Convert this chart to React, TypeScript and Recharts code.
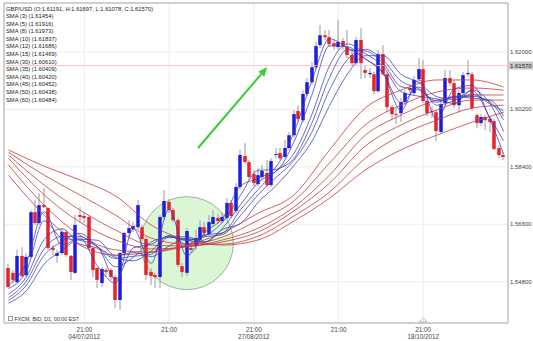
import {
  ComposedChart, Bar, Line, XAxis, YAxis, CartesianGrid,
  ReferenceLine, ReferenceDot, ReferenceArea,
} from 'recharts'

// daily GBP/USD candles: [open, high, low, close]
const candles: [number, number, number, number][] = [
  [1.5523, 1.5536, 1.5461, 1.5464], [1.5508, 1.5517, 1.5476, 1.5486], [1.5479, 1.5580, 1.5476, 1.5561],
  [1.5561, 1.5589, 1.5495, 1.5498], [1.5501, 1.5570, 1.5495, 1.5558], [1.5558, 1.5705, 1.5554, 1.5698],
  [1.5698, 1.5736, 1.5658, 1.5664], [1.5664, 1.5758, 1.5658, 1.5720], [1.5720, 1.5774, 1.5711, 1.5714],
  [1.5711, 1.5714, 1.5580, 1.5586], [1.5586, 1.5595, 1.5564, 1.5580], [1.5561, 1.5580, 1.5539, 1.5570],
  [1.5570, 1.5648, 1.5564, 1.5636], [1.5636, 1.5642, 1.5558, 1.5564], [1.5561, 1.5564, 1.5486, 1.5511],
  [1.5508, 1.5689, 1.5504, 1.5658], [1.5689, 1.5714, 1.5664, 1.5683], [1.5686, 1.5698, 1.5664, 1.5680],
  [1.5683, 1.5689, 1.5580, 1.5586], [1.5586, 1.5589, 1.5495, 1.5517], [1.5523, 1.5526, 1.5461, 1.5486],
  [1.5476, 1.5526, 1.5464, 1.5520], [1.5517, 1.5523, 1.5495, 1.5511], [1.5517, 1.5523, 1.5486, 1.5495],
  [1.5495, 1.5501, 1.5398, 1.5423], [1.5423, 1.5573, 1.5392, 1.5570], [1.5570, 1.5636, 1.5564, 1.5633],
  [1.5633, 1.5673, 1.5620, 1.5648], [1.5645, 1.5667, 1.5636, 1.5655], [1.5651, 1.5736, 1.5642, 1.5720],
  [1.5651, 1.5658, 1.5608, 1.5614], [1.5614, 1.5620, 1.5486, 1.5501], [1.5511, 1.5523, 1.5470, 1.5498],
  [1.5501, 1.5508, 1.5461, 1.5495], [1.5495, 1.5689, 1.5461, 1.5683], [1.5683, 1.5767, 1.5673, 1.5733],
  [1.5730, 1.5739, 1.5695, 1.5705], [1.5705, 1.5711, 1.5667, 1.5673], [1.5673, 1.5680, 1.5526, 1.5533],
  [1.5529, 1.5539, 1.5495, 1.5511], [1.5508, 1.5648, 1.5498, 1.5639], [1.5586, 1.5611, 1.5570, 1.5580],
  [1.5592, 1.5642, 1.5580, 1.5617], [1.5611, 1.5673, 1.5601, 1.5651], [1.5651, 1.5667, 1.5623, 1.5633],
  [1.5630, 1.5689, 1.5623, 1.5667], [1.5661, 1.5705, 1.5655, 1.5683], [1.5680, 1.5692, 1.5661, 1.5670],
  [1.5670, 1.5698, 1.5664, 1.5683], [1.5680, 1.5742, 1.5673, 1.5727], [1.5727, 1.5736, 1.5680, 1.5686],
  [1.5702, 1.5789, 1.5695, 1.5777], [1.5777, 1.5893, 1.5770, 1.5877], [1.5874, 1.5914, 1.5849, 1.5855],
  [1.5855, 1.5861, 1.5799, 1.5808], [1.5817, 1.5830, 1.5780, 1.5789], [1.5786, 1.5836, 1.5780, 1.5814],
  [1.5808, 1.5846, 1.5799, 1.5827], [1.5821, 1.5861, 1.5777, 1.5783], [1.5783, 1.5867, 1.5777, 1.5858],
  [1.5877, 1.5899, 1.5867, 1.5880], [1.5883, 1.5899, 1.5861, 1.5867], [1.5871, 1.5924, 1.5864, 1.5899],
  [1.5899, 1.5949, 1.5893, 1.5939], [1.5939, 1.6018, 1.5933, 1.6005], [1.6015, 1.6033, 1.5983, 1.5990],
  [1.5986, 1.6080, 1.5980, 1.6068], [1.6068, 1.6118, 1.6062, 1.6105], [1.6105, 1.6168, 1.6099, 1.6152],
  [1.6152, 1.6231, 1.6146, 1.6218], [1.6221, 1.6284, 1.6212, 1.6252], [1.6252, 1.6268, 1.6237, 1.6246],
  [1.6246, 1.6268, 1.6215, 1.6224], [1.6227, 1.6237, 1.6206, 1.6218], [1.6215, 1.6299, 1.6206, 1.6231],
  [1.6234, 1.6243, 1.6206, 1.6218], [1.6215, 1.6268, 1.6180, 1.6190], [1.6190, 1.6206, 1.6155, 1.6165],
  [1.6165, 1.6246, 1.6159, 1.6237], [1.6237, 1.6274, 1.6115, 1.6165], [1.6143, 1.6159, 1.6118, 1.6134],
  [1.6130, 1.6149, 1.6118, 1.6134], [1.6130, 1.6137, 1.6068, 1.6077], [1.6077, 1.6206, 1.6071, 1.6193],
  [1.6193, 1.6221, 1.6124, 1.6130], [1.6130, 1.6137, 1.6011, 1.6027], [1.6027, 1.6033, 1.5986, 1.6005],
  [1.6005, 1.6024, 1.5974, 1.6002], [1.6008, 1.6055, 1.5980, 1.6043], [1.6043, 1.6080, 1.6033, 1.6071],
  [1.6087, 1.6096, 1.6065, 1.6080], [1.6071, 1.6124, 1.6065, 1.6112], [1.6115, 1.6180, 1.6105, 1.6146],
  [1.6146, 1.6174, 1.6040, 1.6046], [1.6046, 1.6052, 1.5999, 1.6008], [1.6015, 1.6030, 1.5993, 1.6011],
  [1.6011, 1.6018, 1.5921, 1.5952], [1.5949, 1.6049, 1.5943, 1.6036], [1.6040, 1.6143, 1.6033, 1.6118],
  [1.6118, 1.6143, 1.6093, 1.6102], [1.6102, 1.6112, 1.6024, 1.6033], [1.6033, 1.6080, 1.6011, 1.6071],
  [1.6071, 1.6137, 1.6065, 1.6127], [1.6130, 1.6174, 1.6121, 1.6134], [1.6130, 1.6137, 1.6015, 1.6024],
  [1.6002, 1.6008, 1.5961, 1.5977], [1.5977, 1.6005, 1.5968, 1.5996], [1.5996, 1.6002, 1.5955, 1.5986],
  [1.5990, 1.5996, 1.5949, 1.5980], [1.5983, 1.5990, 1.5893, 1.5896], [1.5899, 1.5908, 1.5867, 1.5877],
  [1.5877, 1.5886, 1.5861, 1.5871],
]

// fast averages, read at every 4th candle
const fastIdx = [1, 5, 9, 13, 17, 21, 25, 29, 33, 37, 41, 45, 49, 53, 57, 61, 65, 69, 73, 77, 81, 85, 89, 93, 97, 101, 105, 109, 112]
const sma3 = [1.5468, 1.5539, 1.5699, 1.5595, 1.5617, 1.5529, 1.5476, 1.5645, 1.5538, 1.5707, 1.5561, 1.5634, 1.5679, 1.5780, 1.5804, 1.5840, 1.5948, 1.6108, 1.6241, 1.6213, 1.6178, 1.6134, 1.6017, 1.6113, 1.5990, 1.6084, 1.6095, 1.5987, 1.5881]
const sma5 = [1.5459, 1.5513, 1.5671, 1.5617, 1.5610, 1.5590, 1.5487, 1.5586, 1.5598, 1.5623, 1.5612, 1.5624, 1.5667, 1.5750, 1.5829, 1.5832, 1.5918, 1.6064, 1.6219, 1.6216, 1.6178, 1.6134, 1.6041, 1.6090, 1.6033, 1.6048, 1.6078, 1.5993, 1.5922]
const sma8 = [1.5441, 1.5495, 1.5612, 1.5646, 1.5598, 1.5585, 1.5527, 1.5557, 1.5605, 1.5619, 1.5621, 1.5605, 1.5648, 1.5721, 1.5791, 1.5827, 1.5882, 1.6003, 1.6157, 1.6225, 1.6195, 1.6154, 1.6076, 1.6061, 1.6053, 1.6038, 1.6081, 1.6037, 1.5951]
const sma10 = [1.5430, 1.5482, 1.5583, 1.5622, 1.5622, 1.5589, 1.5556, 1.5546, 1.5576, 1.5625, 1.5597, 1.5627, 1.5633, 1.5705, 1.5769, 1.5827, 1.5866, 1.5976, 1.6120, 1.6206, 1.6203, 1.6164, 1.6091, 1.6081, 1.6047, 1.6057, 1.6061, 1.6043, 1.5987]
const sma12 = [1.5422, 1.5469, 1.5563, 1.5606, 1.5632, 1.5588, 1.5553, 1.5560, 1.5566, 1.5621, 1.5609, 1.5621, 1.5628, 1.5687, 1.5753, 1.5807, 1.5860, 1.5948, 1.6081, 1.6176, 1.6208, 1.6174, 1.6109, 1.6085, 1.6042, 1.6060, 1.6055, 1.6049, 1.5998]
const sma15 = [1.5413, 1.5452, 1.5535, 1.5578, 1.5613, 1.5610, 1.5561, 1.5572, 1.5559, 1.5592, 1.5616, 1.5604, 1.5644, 1.5662, 1.5729, 1.5781, 1.5844, 1.5919, 1.6032, 1.6130, 1.6188, 1.6188, 1.6130, 1.6104, 1.6060, 1.6051, 1.6067, 1.6037, 1.6015]

// slow averages, read at every 8th candle
const slowIdx = [1, 9, 17, 25, 33, 41, 49, 57, 65, 73, 81, 89, 97, 105, 112]
const sma30 = [1.5814, 1.5689, 1.5595, 1.5564, 1.5573, 1.5595, 1.5633, 1.5695, 1.5752, 1.5893, 1.6024, 1.6080, 1.6112, 1.6112, 1.6090]
const sma35 = [1.5846, 1.5720, 1.5626, 1.5580, 1.5573, 1.5592, 1.5620, 1.5673, 1.5733, 1.5852, 1.5971, 1.6033, 1.6074, 1.6087, 1.6080]
const sma40 = [1.5867, 1.5752, 1.5667, 1.5611, 1.5583, 1.5589, 1.5611, 1.5648, 1.5714, 1.5814, 1.5939, 1.6002, 1.6049, 1.6065, 1.6065]
const sma45 = [1.5877, 1.5783, 1.5705, 1.5642, 1.5595, 1.5592, 1.5605, 1.5636, 1.5702, 1.5789, 1.5905, 1.5971, 1.6018, 1.6049, 1.6049]
const sma50 = [1.5886, 1.5814, 1.5752, 1.5689, 1.5617, 1.5598, 1.5598, 1.5623, 1.5686, 1.5761, 1.5867, 1.5939, 1.5986, 1.6024, 1.6033]
const sma60 = [1.5893, 1.5842, 1.5799, 1.5749, 1.5658, 1.5611, 1.5595, 1.5611, 1.5670, 1.5742, 1.5830, 1.5893, 1.5939, 1.5980, 1.6011]

const yTicks = [1.548, 1.566, 1.584, 1.602, 1.62]
const xTicks = [18, 37, 56, 75, 94]
const xTimes = ['21:00', '21:00', '21:00', '21:00', '21:00']
const xDates = ['04/07/2012', '', '27/08/2012', '', '18/10/2012']
const lastPrice = 1.6157

const legendLines = [
  'GBP/USD (O:1.61191, H:1.61697, L:1.61078, C:1.61570)',
  'SMA (3) (1.61454)', 'SMA (5) (1.61916)', 'SMA (8) (1.61973)', 'SMA (10) (1.61837)',
  'SMA (12) (1.61686)', 'SMA (15) (1.61469)', 'SMA (30) (1.60610)', 'SMA (35) (1.60409)',
  'SMA (40) (1.60420)', 'SMA (45) (1.60452)', 'SMA (50) (1.60438)', 'SMA (60) (1.60484)',
]

const Y_MIN = 1.5351
const Y_MAX = 1.6353
const FONT = "'Liberation Sans', Arial, sans-serif"
const UP = '#1c1ce0'
const DOWN = '#e8212a'

const fast: [string, number[]][] = [['s3', sma3], ['s5', sma5], ['s8', sma8], ['s10', sma10], ['s12', sma12], ['s15', sma15]]
const slow: [string, number[]][] = [['s30', sma30], ['s35', sma35], ['s40', sma40], ['s45', sma45], ['s50', sma50], ['s60', sma60]]

const rows: any[] = candles.map(([o, h, l, c], j) => ({ idx: j + 1, o, h, l, c, range: [l, h] }))
fast.forEach(([key, vals]) => fastIdx.forEach((i, j) => { rows[i - 1][key] = vals[j] }))
slow.forEach(([key, vals]) => slowIdx.forEach((i, j) => { rows[i - 1][key] = vals[j] }))

function Candle(props: any) {
  const { x, y, width, height, payload } = props
  if (!payload) return null
  const { o, h, l, c } = payload
  const k = h > l ? height / (h - l) : 0
  const cx = Math.round(x + width / 2)
  const top = y + (h - Math.max(o, c)) * k
  const bot = y + (h - Math.min(o, c)) * k
  return (
    <g>
      <line x1={cx} x2={cx} y1={y} y2={y + height} stroke="#9a9a9a" strokeWidth={1} />
      <rect x={cx - 1.75} y={top} width={3.5} height={Math.max(1, bot - top)} fill={c >= o ? UP : DOWN} />
    </g>
  )
}

function XTick(props: any) {
  const { x, y, payload } = props
  const i = xTicks.indexOf(payload.value)
  return (
    <g fontFamily={FONT} fontSize={6.3} fill="#444">
      <text x={x} y={y + 8.5} textAnchor="middle">{xTimes[i]}</text>
      {xDates[i] ? <text x={x} y={y + 15.5} textAnchor="middle">{xDates[i]}</text> : null}
    </g>
  )
}

function Arrow(props: any) {
  const { x1, y1, x2, y2 } = props
  const a = Math.atan2(y2 - y1, x2 - x1)
  const len = 9
  const w = 4
  const bx = x2 - len * Math.cos(a)
  const by = y2 - len * Math.sin(a)
  const px = -Math.sin(a) * w
  const py = Math.cos(a) * w
  return (
    <g>
      <line x1={x1} y1={y1} x2={bx} y2={by} stroke="#35cc35" strokeWidth={2} />
      <polygon points={`${x2},${y2} ${bx + px},${by + py} ${bx - px},${by - py}`} fill="#35cc35" />
    </g>
  )
}

function PriceTag(props: any) {
  const { viewBox } = props
  const x = viewBox.x + viewBox.width
  return (
    <g>
      <rect x={x} y={viewBox.y - 4} width={26} height={8} fill="#c9c9c9" />
      <text x={x + 2} y={viewBox.y + 2.2} fontFamily={FONT} fontSize={6} fill="#222">{lastPrice.toFixed(5)}</text>
    </g>
  )
}

function Marker(props: any) {
  const { cx, cy } = props
  return <polygon points={`${cx - 4},${cy - 1} ${cx + 4},${cy - 1} ${cx},${cy - 5}`} fill="none" stroke="#aaa" strokeWidth={0.8} />
}

export default function App() {
  return (
    <div style={{ position: 'absolute', left: 0, top: 0, width: 533, height: 341, background: '#fff', overflow: 'hidden' }}>
      <ComposedChart width={533} height={341} data={rows} margin={{ top: 3, right: 0, bottom: 0, left: 4 }}>
        <CartesianGrid stroke="#eeeeee" strokeWidth={1} />
        <XAxis
          type="number"
          dataKey="idx"
          domain={[0, 113]}
          ticks={xTicks}
          tick={<XTick />}
          height={18}
          axisLine={false}
          tickLine={false}
          tickSize={0}
          tickMargin={0}
          interval={0}
        />
        <YAxis
          orientation="right"
          domain={[Y_MIN, Y_MAX]}
          ticks={yTicks}
          width={25}
          axisLine={false}
          tickLine={false}
          tickSize={0}
          tickMargin={2}
          tickFormatter={(v: number) => v.toFixed(5)}
          tick={{ fontSize: 6, fill: '#444', fontFamily: FONT, textAnchor: 'start' }}
          allowDataOverflow
        />
        <ReferenceDot x={41} y={1.5601} r={46.5} fill="#d6f5cf" fillOpacity={0.9} stroke="#9cb59c" strokeWidth={1} zIndex={-50} />
        <ReferenceLine y={lastPrice} stroke="#f3c4c4" strokeOpacity={0.9} strokeWidth={1} label={<PriceTag />} />
        {slow.map(([key]) => (
          <Line key={key} type="monotone" dataKey={key} stroke="#c8393c" strokeWidth={0.8} dot={false} connectNulls isAnimationActive={false} />
        ))}
        {fast.map(([key]) => (
          <Line key={key} type="monotone" dataKey={key} stroke="#3a3ab8" strokeWidth={0.75} dot={false} connectNulls isAnimationActive={false} />
        ))}
        <Bar dataKey="range" barSize={4} shape={<Candle />} isAnimationActive={false} />
        <ReferenceLine
          segment={[{ x: 43.5, y: 1.5899 }, { x: 59, y: 1.6152 }]}
          shape={<Arrow />}
          stroke="#35cc35"
          strokeWidth={2}
        />
        <ReferenceArea x1={0} x2={113} y1={Y_MIN} y2={Y_MAX} fill="none" stroke="#a8a8a8" strokeWidth={1} />
        <ReferenceDot x={94} y={Y_MIN} r={4} shape={<Marker />} />
      </ComposedChart>
      <div style={{ position: 'absolute', left: 6, top: 5.5, fontFamily: FONT, fontSize: 5.8, lineHeight: '7.6px', color: '#222', whiteSpace: 'pre' }}>
        {legendLines.map((t) => <div key={t}>{t}</div>)}
      </div>
      <div style={{ position: 'absolute', left: 8, top: 315.5, fontFamily: FONT, fontSize: 5.3, color: '#333', display: 'flex', alignItems: 'center', gap: 2 }}>
        <span style={{ width: 2.5, height: 2.5, border: '0.5px solid #999', display: 'inline-block' }} />
        <span>FXCM, BID, D1, 00:00 EST</span>
      </div>
    </div>
  )
}
